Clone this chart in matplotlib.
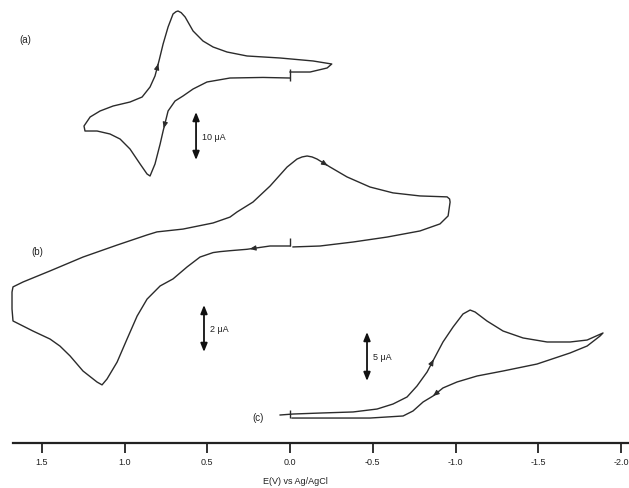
import numpy as np
import matplotlib; matplotlib.use("Agg")
import matplotlib.pyplot as plt

plt.rcParams["font.family"] = ["Liberation Sans", "DejaVu Sans"]
plt.rcParams["axes.unicode_minus"] = False

# potential (V vs Ag/AgCl) and current (uA), in sweep order
E_a = [0.00, 0.163, 0.363, 0.502, 0.586, 0.647, 0.695, 0.737, 0.767, 0.785, 0.816, 0.846, 0.864,
       0.906, 0.967, 1.027, 1.088, 1.166, 1.239, 1.245, 1.208, 1.148, 1.069, 0.967, 0.894, 0.846,
       0.816, 0.792, 0.767, 0.737, 0.707, 0.689, 0.677, 0.658, 0.634, 0.586, 0.526, 0.465, 0.381,
       0.260, 0.060, -0.139, -0.252, -0.224, -0.121, 0.00]
i_a = [-0.42, -0.30, -0.42, -1.25, -2.71, -4.17, -5.21, -7.29, -11.46, -14.17, -18.33, -20.83, -20.42,
       -18.33, -15.21, -13.13, -12.08, -11.46, -11.46, -10.42, -8.54, -7.29, -6.25, -5.42, -4.38, -2.29,
       0.0, 3.13, 6.67, 10.21, 12.92, 13.4, 13.54, 13.2, 12.29, 9.38, 7.29, 6.04, 5.0,
       4.17, 3.75, 3.13, 2.5, 1.67, 0.83, 0.83]

E_b = [0.00, 0.121, 0.260, 0.363, 0.423, 0.465, 0.544, 0.622, 0.707, 0.785, 0.864, 0.924, 0.985,
       1.045, 1.106, 1.136, 1.166, 1.251, 1.329, 1.390, 1.450, 1.553, 1.674, 1.680, 1.680, 1.674,
       1.613, 1.450, 1.251, 1.045, 0.864, 0.804, 0.647, 0.465, 0.363, 0.320, 0.224, 0.121, 0.018,
       -0.042, -0.073, -0.103, -0.133, -0.163, -0.242, -0.344, -0.483, -0.622, -0.785, -0.949,
       -0.964, -0.967, -0.955, -0.906, -0.785, -0.586, -0.381, -0.181, -0.018]
i_b = [0.0, 0.0, -0.14, -0.20, -0.24, -0.28, -0.47, -0.89, -1.40, -1.70, -2.26, -2.98, -3.96,
       -4.94, -5.66, -5.91, -5.79, -5.32, -4.68, -4.26, -3.96, -3.62, -3.19, -2.68, -1.96, -1.74,
       -1.53, -1.06, -0.47, 0.04, 0.47, 0.60, 0.72, 0.98, 1.23, 1.45, 1.87, 2.55, 3.36,
       3.70, 3.79, 3.83, 3.79, 3.70, 3.36, 2.94, 2.51, 2.26, 2.13, 2.09,
       2.0, 1.87, 1.28, 0.94, 0.64, 0.38, 0.17, 0.0, -0.04]

E_c = [0.06, -0.018, -0.181, -0.381, -0.526, -0.622, -0.707, -0.767, -0.828, -0.876, -0.924, -0.985,
       -1.045, -1.088, -1.118, -1.190, -1.287, -1.408, -1.553, -1.692, -1.795, -1.891, -1.873, -1.795,
       -1.692, -1.492, -1.287, -1.130, -1.009, -0.924, -0.864, -0.804, -0.743, -0.683, -0.483, -0.181,
       -0.012]
i_c = [0.0, 0.10, 0.20, 0.31, 0.61, 1.12, 1.84, 2.96, 4.39, 5.92, 7.45, 8.98,
       10.31, 10.71, 10.51, 9.59, 8.57, 7.86, 7.45, 7.45, 7.65, 8.37, 8.06, 7.04,
       6.33, 5.20, 4.49, 3.98, 3.37, 2.76, 1.94, 1.33, 0.41, -0.10, -0.31, -0.31,
       -0.31]

labels = ["(a)", "(b)", "(c)"]
bar_uA = [10, 2, 5]
xticks = [1.5, 1.0, 0.5, 0.0, -0.5, -1.0, -1.5, -2.0]

# layout: vertical offset of each trace and its scale (display units per uA)
offset = [367, 197, 28]
scale = [4.8, 23.5, 9.8]
arrow_idx = [(8, 27), (2, 44), (9, 30)]
bar_pos = [(0.568, -17.5), (0.520, -4.51), (-0.465, 3.47)]
lab_pos = [(1.60, 7.7), (1.53, -0.21), (0.193, -0.2)]
col = "#2b2b2b"

fig = plt.figure(figsize=(6.29, 4.89), dpi=100)
ax = fig.add_axes([13/629, 45/489, 616/629, 444/489])

for k, (E, i) in enumerate([(E_a, i_a), (E_b, i_b), (E_c, i_c)]):
    E = np.asarray(E); y = offset[k] + scale[k] * np.asarray(i)
    ax.plot(E, y, color=col, lw=1.0, solid_joinstyle="round", clip_on=False)
    # start marker at 0 V
    ax.plot([0.0], [offset[k] + scale[k] * (0.2 if k == 0 else 0.15)], marker="|", ms=8 if k == 0 else 6,
            mew=1.0, color=col)
    # sweep direction arrows
    for j in arrow_idx[k]:
        x0, y0 = E[j - 1], y[j - 1]
        x1, y1 = E[j], y[j]
        ax.annotate("", xy=(x1, y1), xytext=(x0 + 0.6 * (x1 - x0), y0 + 0.6 * (y1 - y0)),
                    arrowprops=dict(arrowstyle="-|>,head_length=0.35,head_width=0.15", color=col, lw=0.8))
    # scale bar
    bx, bi = bar_pos[k]
    yb0 = offset[k] + scale[k] * bi; yb1 = offset[k] + scale[k] * (bi + bar_uA[k])
    ax.annotate("", xy=(bx, yb1), xytext=(bx, yb0),
                arrowprops=dict(arrowstyle="<|-|>,head_length=0.5,head_width=0.2", color="#111111", lw=1.3,
                                shrinkA=0, shrinkB=0))
    ax.text(bx - 0.035, (yb0 + yb1) / 2, f"{bar_uA[k]} \u03bcA", fontsize=6.5, ha="left", va="center",
            color="#222222")
    lx, li = lab_pos[k]
    ax.text(lx, offset[k] + scale[k] * li, labels[k], fontsize=7, ha="center", va="center", color="#222222")

ax.set_xlim(1.674, -2.048)
ax.set_ylim(0, 444)
ax.set_xticks(xticks)
ax.set_xticklabels([f"{t:.1f}" for t in xticks], fontsize=6.5, color="#222222")
ax.set_yticks([])
for s in ["top", "right", "left"]:
    ax.spines[s].set_visible(False)
ax.spines["bottom"].set_linewidth(1.6)
ax.spines["bottom"].set_color("#222222")
ax.tick_params(axis="x", direction="out", length=7, width=1.3, pad=3, colors="#222222")
ax.set_xlabel("E(V) vs Ag/AgCl", fontsize=6.5, color="#222222")
ax.xaxis.set_label_coords(0.458, -0.075)
ax.patch.set_visible(False)

fig.savefig("out.png", dpi=100)
